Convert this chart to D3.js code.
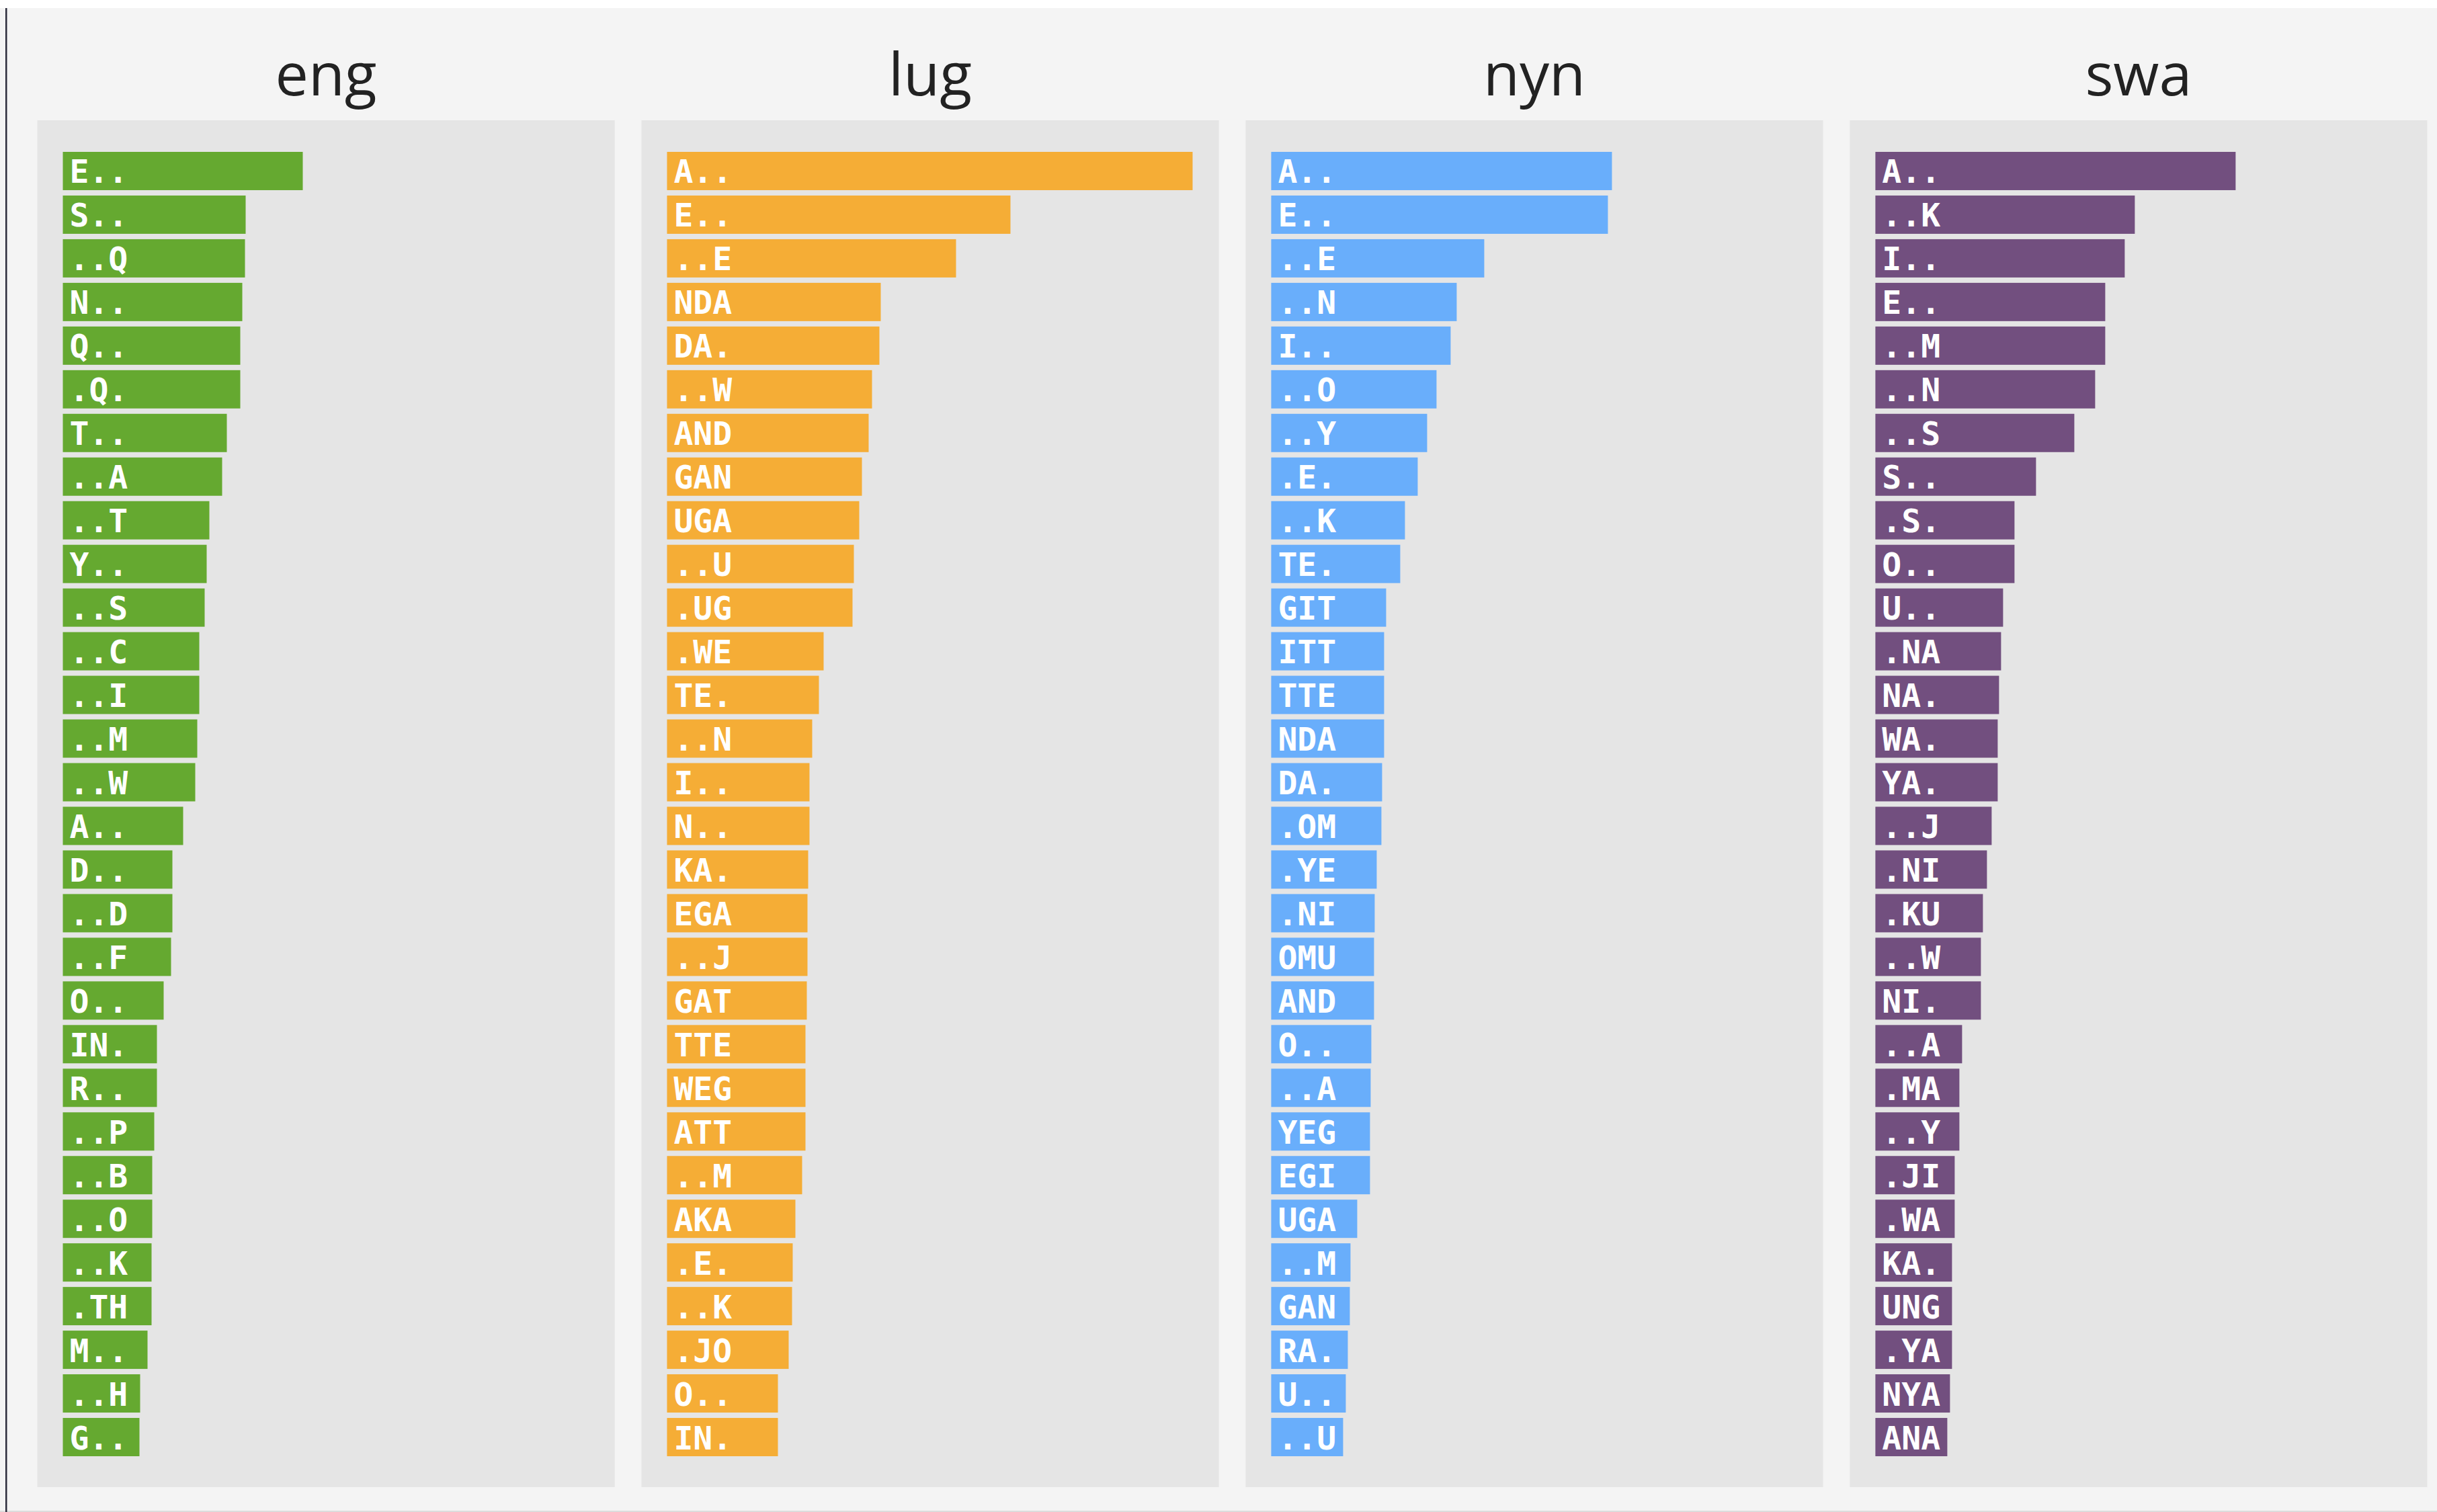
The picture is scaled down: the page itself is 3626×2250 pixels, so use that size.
<!DOCTYPE html>
<html>
<head>
<meta charset="utf-8">
<script src="https://cdn.jsdelivr.net/npm/d3@7"></script>
<style>
  html, body { margin: 0; padding: 0; background: #ffffff; }
  svg { display: block; }
</style>
</head>
<body>
<svg id="chart" width="3626" height="2250"></svg>
<script>
const languages = ["eng", "lug", "nyn", "swa"];
const colors = ["#65a930", "#f5ad36", "#69aefb", "#724f7f"];

const engLabels = ["E..", "S..", "..Q", "N..", "Q..", ".Q.", "T..", "..A", "..T", "Y..", "..S", "..C", "..I", "..M", "..W", "A..", "D..", "..D", "..F", "O..", "IN.", "R..", "..P", "..B", "..O", "..K", ".TH", "M..", "..H", "G.."];
const engValues = [357, 272, 271, 267, 264, 264, 244, 237, 218, 214, 211, 203, 203, 200, 197, 179, 163, 163, 161, 150, 140, 140, 136, 133, 133, 132, 132, 126, 115, 114];

const lugLabels = ["A..", "E..", "..E", "NDA", "DA.", "..W", "AND", "GAN", "UGA", "..U", ".UG", ".WE", "TE.", "..N", "I..", "N..", "KA.", "EGA", "..J", "GAT", "TTE", "WEG", "ATT", "..M", "AKA", ".E.", "..K", ".JO", "O..", "IN."];
const lugValues = [782, 511, 430, 318, 316, 305, 300, 290, 286, 278, 276, 233, 226, 216, 212, 212, 210, 209, 209, 208, 206, 206, 206, 201, 191, 187, 186, 181, 165, 165];

const nynLabels = ["A..", "E..", "..E", "..N", "I..", "..O", "..Y", ".E.", "..K", "TE.", "GIT", "ITT", "TTE", "NDA", "DA.", ".OM", ".YE", ".NI", "OMU", "AND", "O..", "..A", "YEG", "EGI", "UGA", "..M", "GAN", "RA.", "U..", "..U"];
const nynValues = [507, 501, 317, 276, 267, 246, 232, 218, 199, 192, 171, 168, 168, 168, 165, 164, 157, 154, 153, 153, 149, 148, 147, 147, 128, 118, 117, 114, 111, 107];

const swaLabels = ["A..", "..K", "I..", "E..", "..M", "..N", "..S", "S..", ".S.", "O..", "U..", ".NA", "NA.", "WA.", "YA.", "..J", ".NI", ".KU", "..W", "NI.", "..A", ".MA", "..Y", ".JI", ".WA", "KA.", "UNG", ".YA", "NYA", "ANA"];
const swaValues = [536, 386, 371, 342, 342, 327, 296, 239, 207, 207, 190, 187, 184, 182, 182, 173, 166, 160, 157, 157, 129, 125, 125, 118, 118, 114, 114, 114, 111, 107];

const panels = [
  {lang: languages[0], labels: engLabels, values: engValues, color: colors[0]},
  {lang: languages[1], labels: lugLabels, values: lugValues, color: colors[1]},
  {lang: languages[2], labels: nynLabels, values: nynValues, color: colors[2]},
  {lang: languages[3], labels: swaLabels, values: swaValues, color: colors[3]}
];

const W = 3626, H = 2250;
const svg = d3.select("#chart");

// page background
svg.append("rect").attr("x", 0).attr("y", 12).attr("width", W).attr("height", 2236).attr("fill", "#f4f4f4");
svg.append("rect").attr("x", 0).attr("y", 2248).attr("width", W).attr("height", 2).attr("fill", "#dcdcdc");
svg.append("rect").attr("x", 8).attr("y", 12).attr("width", 2.5).attr("height", 2238).attr("fill", "#2c2c3c");

const panelTop = 179, panelBottom = 2213;
const xPanel = d3.scaleBand().domain(languages).range([55.5, 3611.5]).paddingInner(0.0443).paddingOuter(0);

const maxVal = d3.max([engValues, lugValues, nynValues, swaValues].flat());
const x = d3.scaleLinear().domain([0, maxVal]).range([0, 782]);

panels.forEach(p => {
  const px = xPanel(p.lang);
  const pw = xPanel.bandwidth();
  const g = svg.append("g");

  g.append("text")
    .attr("x", px + pw / 2)
    .attr("y", 142)
    .attr("text-anchor", "middle")
    .attr("font-family", "'Open Sans', sans-serif")
    .attr("font-size", 88)
    .attr("fill", "#222222")
    .text(p.lang);

  g.append("rect")
    .attr("x", px).attr("y", panelTop)
    .attr("width", pw).attr("height", panelBottom - panelTop)
    .attr("fill", "#e5e5e5");

  const y = d3.scaleBand().domain(p.labels).range([222, 2171]).paddingInner(0.123).paddingOuter(0.0615);
  const data = p.labels.map((l, i) => ({label: l, value: p.values[i]}));
  const bx = px + 38;

  g.selectAll("rect.bar").data(data).enter().append("rect")
    .attr("class", "bar")
    .attr("x", bx)
    .attr("y", d => y(d.label))
    .attr("width", d => x(d.value))
    .attr("height", y.bandwidth())
    .attr("fill", p.color);

  g.selectAll("text.lbl").data(data).enter().append("text")
    .attr("class", "lbl")
    .attr("x", bx + 10)
    .attr("y", d => y(d.label) + y.bandwidth() / 2 + 18)
    .attr("font-family", "'DejaVu Sans Mono', monospace")
    .attr("font-weight", "bold")
    .attr("font-size", 48)
    .attr("fill", "#ffffff")
    .text(d => d.label);
});
</script>
</body>
</html>
